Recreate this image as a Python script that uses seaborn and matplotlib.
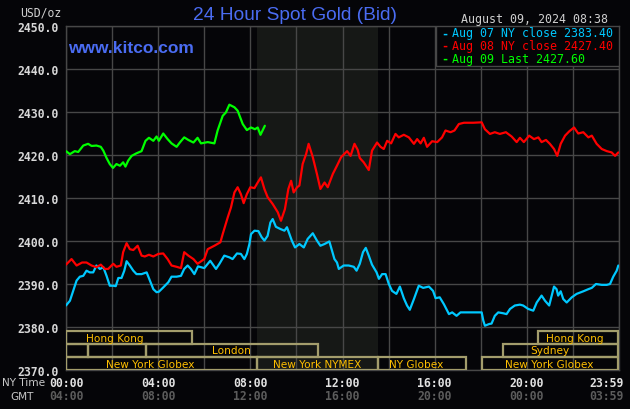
import pandas as pd
import seaborn as sns
import matplotlib.pyplot as plt
from matplotlib.patches import Rectangle

# hours after 00:00 New York time, spot bid in USD/oz
aug07_hours = [0.00, 0.17, 0.31, 0.46, 0.60, 0.75, 0.89, 1.03, 1.18, 1.32, 1.47, 1.62, 1.76, 1.90,
               2.05, 2.16, 2.27, 2.41, 2.53, 2.63, 2.77, 2.92, 3.06, 3.28, 3.50, 3.64, 3.79, 3.93,
               4.03, 4.22, 4.44, 4.58, 4.80, 4.99, 5.13, 5.28, 5.42, 5.57, 5.73, 6.00, 6.26, 6.51,
               6.66, 6.87, 7.09, 7.23, 7.42, 7.59, 7.74, 7.85, 7.96, 8.03, 8.18, 8.35, 8.49, 8.61,
               8.75, 8.87, 8.97, 9.11, 9.30, 9.48, 9.59, 9.70, 9.80, 9.94, 10.13, 10.32, 10.49,
               10.71, 10.89, 11.04, 11.22, 11.43, 11.55, 11.65, 11.76, 11.84, 12.05, 12.27, 12.49,
               12.61, 12.75, 12.89, 13.01, 13.14, 13.28, 13.48, 13.58, 13.72, 13.87, 14.01, 14.15,
               14.34, 14.49, 14.66, 14.80, 14.92, 15.10, 15.31, 15.50, 15.75, 15.93, 16.04, 16.22,
               16.40, 16.62, 16.76, 16.95, 17.12, 17.35, 17.67, 18.04, 18.11, 18.18, 18.37, 18.47,
               18.61, 18.76, 18.97, 19.12, 19.27, 19.48, 19.70, 19.84, 20.06, 20.28, 20.43, 20.64,
               20.79, 20.97, 21.08, 21.18, 21.29, 21.36, 21.47, 21.58, 21.73, 21.95, 22.16, 22.45,
               22.67, 22.82, 23.00, 23.25, 23.47, 23.61, 23.75, 23.90, 23.97]
aug07_price = [2385.0, 2386.1, 2388.4, 2390.8, 2391.7, 2391.9, 2393.1, 2392.7, 2392.7, 2394.3,
               2393.5, 2393.9, 2391.9, 2389.6, 2389.6, 2389.5, 2391.4, 2391.4, 2393.1, 2395.3,
               2394.3, 2393.1, 2392.3, 2392.3, 2392.7, 2390.8, 2388.8, 2388.1, 2388.2, 2389.2,
               2390.4, 2391.7, 2391.7, 2391.9, 2393.5, 2394.3, 2393.5, 2392.3, 2394.1, 2393.7,
               2395.4, 2393.5, 2394.7, 2396.6, 2396.2, 2395.8, 2397.1, 2397.0, 2395.8, 2397.0,
               2399.3, 2401.6, 2402.4, 2402.3, 2400.9, 2400.1, 2401.2, 2404.3, 2405.1, 2403.3,
               2402.8, 2402.4, 2403.2, 2401.6, 2400.1, 2398.5, 2399.3, 2398.5, 2400.5, 2401.8,
               2400.1, 2398.9, 2399.3, 2399.9, 2397.7, 2395.8, 2395.0, 2393.5, 2394.3, 2394.3,
               2394.0, 2393.1, 2394.7, 2397.4, 2398.4, 2396.6, 2394.5, 2392.7, 2391.2, 2392.3,
               2392.3, 2390.0, 2388.4, 2387.7, 2389.4, 2386.7, 2385.0, 2384.0, 2386.5, 2389.6,
               2389.1, 2389.4, 2388.4, 2386.7, 2386.9, 2385.3, 2383.0, 2383.4, 2382.6, 2383.4,
               2383.4, 2383.4, 2383.4, 2381.5, 2380.3, 2380.7, 2380.8, 2382.6, 2383.4, 2383.2,
               2383.0, 2384.2, 2385.0, 2385.2, 2385.0, 2384.2, 2383.8, 2385.7, 2387.3, 2386.1,
               2385.0, 2387.3, 2389.4, 2388.8, 2387.3, 2388.3, 2386.5, 2385.7, 2386.9, 2387.7,
               2388.3, 2388.8, 2389.1, 2390.0, 2389.8, 2389.8, 2390.0, 2391.7, 2393.1, 2394.3]

aug08_hours = [0.00, 0.24, 0.46, 0.70, 0.89, 1.11, 1.32, 1.51, 1.69, 1.83, 2.05, 2.19, 2.38, 2.48,
               2.63, 2.77, 2.92, 3.11, 3.28, 3.42, 3.60, 3.79, 4.01, 4.22, 4.41, 4.58, 4.80, 4.99,
               5.13, 5.31, 5.53, 5.71, 6.00, 6.15, 6.44, 6.70, 6.80, 7.02, 7.16, 7.31, 7.45, 7.59,
               7.71, 7.85, 8.00, 8.18, 8.32, 8.46, 8.61, 8.75, 8.97, 9.19, 9.33, 9.50, 9.65, 9.77,
               9.88, 10.03, 10.13, 10.27, 10.42, 10.53, 10.71, 10.89, 11.04, 11.22, 11.36, 11.58,
               11.76, 11.94, 12.20, 12.35, 12.52, 12.66, 12.75, 12.92, 13.14, 13.28, 13.50, 13.65,
               13.79, 13.94, 14.11, 14.30, 14.44, 14.66, 14.88, 15.10, 15.24, 15.39, 15.53, 15.67,
               15.89, 16.11, 16.32, 16.47, 16.69, 16.86, 17.05, 17.27, 17.67, 18.04, 18.18, 18.40,
               18.61, 18.83, 19.09, 19.34, 19.56, 19.70, 19.87, 20.10, 20.31, 20.50, 20.64, 20.83,
               21.00, 21.18, 21.32, 21.47, 21.66, 21.84, 22.05, 22.23, 22.45, 22.67, 22.82, 23.03,
               23.25, 23.47, 23.68, 23.83, 23.97]
aug08_price = [2394.5, 2395.8, 2394.3, 2395.0, 2395.0, 2394.3, 2393.9, 2394.5, 2393.5, 2393.5,
               2394.7, 2394.0, 2394.3, 2397.4, 2399.5, 2398.1, 2397.9, 2398.9, 2396.6, 2396.4,
               2396.8, 2396.4, 2397.0, 2397.1, 2395.8, 2394.3, 2394.0, 2393.7, 2397.4, 2396.6,
               2395.8, 2394.7, 2395.8, 2398.1, 2398.9, 2399.7, 2401.6, 2405.5, 2407.8, 2411.3,
               2412.5, 2410.9, 2408.8, 2410.9, 2412.5, 2412.3, 2413.6, 2414.8, 2412.1, 2410.2,
               2408.6, 2406.7, 2404.7, 2407.4, 2412.1, 2414.0, 2411.3, 2412.5, 2412.9, 2417.9,
               2420.2, 2422.6, 2419.5, 2415.6, 2412.1, 2413.6, 2412.5, 2415.6, 2417.5, 2419.5,
               2420.9, 2419.8, 2422.6, 2421.2, 2419.3, 2418.3, 2416.5, 2421.0, 2422.9, 2421.9,
               2421.4, 2423.3, 2422.7, 2424.9, 2424.1, 2424.7, 2424.1, 2422.6, 2423.7, 2422.7,
               2424.0, 2421.9, 2423.2, 2423.0, 2424.1, 2425.7, 2425.3, 2425.7, 2427.2, 2427.5,
               2427.5, 2427.6, 2426.0, 2424.9, 2425.3, 2424.9, 2425.3, 2424.3, 2423.0, 2424.0,
               2423.0, 2424.5, 2423.7, 2424.1, 2423.0, 2423.5, 2422.6, 2421.4, 2419.8, 2422.6,
               2424.5, 2425.5, 2426.4, 2425.0, 2425.3, 2424.1, 2424.5, 2422.6, 2421.4, 2420.9,
               2420.6, 2419.8, 2420.6]

aug09_hours = [0.00, 0.17, 0.38, 0.53, 0.75, 0.96, 1.11, 1.32, 1.51, 1.62, 1.76, 1.90, 2.04, 2.19,
               2.34, 2.48, 2.58, 2.70, 2.85, 3.06, 3.28, 3.45, 3.60, 3.79, 3.93, 4.03, 4.22, 4.41,
               4.58, 4.80, 4.94, 5.13, 5.31, 5.53, 5.71, 5.86, 6.15, 6.44, 6.58, 6.80, 6.94, 7.09,
               7.31, 7.45, 7.67, 7.85, 8.03, 8.20, 8.32, 8.44, 8.54, 8.63]
aug09_price = [2420.9, 2420.2, 2420.9, 2420.7, 2422.2, 2422.6, 2422.1, 2422.2, 2421.9, 2421.0,
               2419.3, 2417.9, 2417.0, 2417.9, 2417.5, 2418.3, 2417.3, 2418.7, 2419.8, 2420.4,
               2420.9, 2423.3, 2424.0, 2423.3, 2424.3, 2423.3, 2425.0, 2423.7, 2422.7, 2421.9,
               2422.9, 2424.1, 2423.5, 2422.9, 2424.0, 2422.7, 2423.0, 2422.7, 2425.7, 2429.1,
               2429.9, 2431.7, 2431.1, 2430.3, 2427.2, 2425.8, 2426.4, 2426.0, 2426.4, 2424.7,
               2425.8, 2426.8]

legend_labels = ["Aug 07 NY close 2383.40", "Aug 08 NY close 2427.40", "Aug 09 Last 2427.60"]
series_colors = ["#00c8ff", "#ff0000", "#00ff00"]

price_ticks = [2370, 2380, 2390, 2400, 2410, 2420, 2430, 2440, 2450]
time_ticks = [0, 4, 8, 12, 16, 20, 24]
ny_labels = ["00:00", "04:00", "08:00", "12:00", "16:00", "20:00", "23:59"]
gmt_labels = ["04:00", "08:00", "12:00", "16:00", "20:00", "00:00", "03:59"]

nymex_span = (8.28, 13.53)

# market session bars: name, row, start hour, end hour, label hour
row_bounds = [(2376.1, 2379.0), (2373.0, 2376.1), (2370.0, 2373.0)]
sessions = [
    ("Hong Kong", 0, 0.0, 5.48, 2.13),
    ("Hong Kong", 0, 20.5, 23.95, 22.08),
    ("", 1, 0.0, 0.95, None),
    ("", 1, 0.95, 3.48, None),
    ("London", 1, 3.48, 10.94, 7.16),
    ("Sydney", 1, 18.97, 23.95, 20.98),
    ("New York Globex", 2, 0.0, 8.28, 3.64),
    ("New York NYMEX", 2, 8.28, 13.53, 10.9),
    ("NY Globex", 2, 13.53, 17.34, 15.2),
    ("New York Globex", 2, 18.04, 23.95, 20.98),
]

bg = "#050508"
grid_col = "#474747"
mono = "DejaVu Sans Mono"

sns.set_theme(style="dark")
plt.rcParams["font.family"] = ["DejaVu Sans"]

fig = plt.figure(figsize=(6.3, 4.1), dpi=100, facecolor=bg)
ax = fig.add_axes([66 / 630, 39 / 410, 553 / 630, 344 / 410])
ax.set_facecolor(bg)

ax.axvspan(*nymex_span, color="#161816", zorder=0, lw=0)

for hours, price, col in [(aug07_hours, aug07_price, series_colors[0]),
                          (aug08_hours, aug08_price, series_colors[1]),
                          (aug09_hours, aug09_price, series_colors[2])]:
    df = pd.DataFrame({"hour": hours, "price": price})
    sns.lineplot(data=df, x="hour", y="price", color=col, linewidth=1.6, ax=ax, zorder=3)

ax.set_xlim(0, 24)
ax.set_ylim(2370, 2450)
ax.set_xticks(range(0, 25, 2))
ax.set_xticklabels([])
ax.set_yticks(price_ticks)
ax.set_yticklabels([f"{v:.1f}" for v in price_ticks])
ax.tick_params(axis="y", length=0, pad=5, labelsize=8.3, labelcolor="#d8d8d8")
ax.tick_params(axis="x", length=0)
for lab in ax.get_yticklabels():
    lab.set_family(mono)
    lab.set_weight("bold")
ax.grid(True, color=grid_col, lw=1.0, zorder=1)
ax.set_axisbelow(True)
ax.set_xlabel("")
ax.set_ylabel("")
for sp in ax.spines.values():
    sp.set_color(grid_col)
    sp.set_linewidth(1.0)

# session bars
for name, row, start, end, lab_x in sessions:
    lo, hi = row_bounds[row]
    ax.add_patch(Rectangle((start, lo), end - start, hi - lo, fill=False,
                           edgecolor="#a39d6c", lw=1.6, zorder=4))
    if name:
        ax.text(lab_x, (lo + hi) / 2, name, ha="center", va="center",
                color="#ffbf00", fontsize=7.6, zorder=5)

# legend box in the top right corner
ax.add_patch(Rectangle((0.6685, 0.8846), 0.3315, 0.1154, transform=ax.transAxes,
                       facecolor=bg, edgecolor=grid_col, lw=1.0, zorder=6))
for i, (lab, col) in enumerate(zip(legend_labels, series_colors)):
    y = 1 - (33.7 + 12.7 * i) / 410
    fig.text(441 / 630, y, "-", color=col, fontsize=8.4, family=mono,
             weight="bold", va="center", zorder=7)
    fig.text(451.5 / 630, y, lab, color=col, fontsize=8.4, family=mono,
             va="center", zorder=7)

# headings
fig.text(295 / 630, 1 - 16 / 410, "24 Hour Spot Gold (Bid)", color="#4a6cf2",
         fontsize=13.8, family="Liberation Sans", ha="center", va="center")
fig.text(68 / 630, 1 - 48.5 / 410, "www.kitco.com", color="#4a6cf2",
         fontsize=12.5, family="Liberation Sans", weight="bold", va="center", zorder=7)
fig.text(608 / 630, 1 - 20 / 410, "August 09, 2024 08:38", color="#d0d0d0",
         fontsize=8.4, family=mono, ha="right", va="center")
fig.text(61 / 630, 1 - 13.5 / 410, "USD/oz", color="#d0d0d0",
         fontsize=8.3, family=mono, ha="right", va="center")

# time axis, NY time and GMT
fig.text(2.5 / 630, 1 - 383.3 / 410, "NY Time", color="#c8c8c8", fontsize=7.6,
         va="center")
fig.text(10.5 / 630, 1 - 396.7 / 410, "GMT", color="#c8c8c8", fontsize=7.6,
         va="center")
xt = ax.get_xaxis_transform()
for h, ny, gmt in zip(time_ticks, ny_labels, gmt_labels):
    ha = "right" if h == 24 else "center"
    dx = 5 if h == 24 else 0
    ax.annotate(ny, (h, 0), xycoords=xt, xytext=(dx, -12.3), textcoords="offset pixels",
                ha=ha, va="center", color="#e2e2e2", fontsize=8.3, family=mono,
                weight="bold", annotation_clip=False)
    ax.annotate(gmt, (h, 0), xycoords=xt, xytext=(dx, -25.7), textcoords="offset pixels",
                ha=ha, va="center", color="#5c5c5c", fontsize=8.3, family=mono,
                weight="bold", annotation_clip=False)

fig.savefig("out.png", dpi=100, facecolor=bg)
